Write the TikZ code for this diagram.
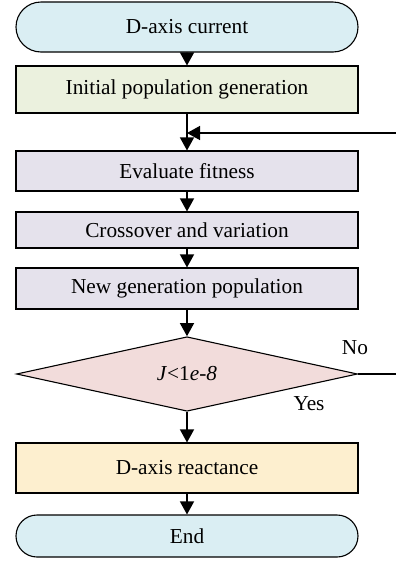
\documentclass[tikz,border=0pt]{standalone}
\usepackage{fontspec}
\setmainfont{Liberation Serif}
\usetikzlibrary{
  arrows.meta,
  shapes.geometric,
  shapes.misc
}

\definecolor{termblue}{HTML}{DAEEF3}
\definecolor{initgreen}{HTML}{EBF1DE}
\definecolor{steplilac}{HTML}{E5E2EC}
\definecolor{judgepink}{HTML}{F2DCDB}
\definecolor{outyellow}{HTML}{FDEFCF}

\begin{document}
\begin{tikzpicture}[x=1pt,y=-1pt,
    every node/.style={font=\fontsize{21.3}{25}\selectfont},
    box/.style={draw,line width=1.1pt,minimum width=342pt,inner sep=0pt},
    term/.style={box,rounded rectangle,fill=termblue},
    judge/.style={draw,line width=1.1pt,diamond,fill=judgepink,
      minimum width=341pt,minimum height=74pt,inner sep=0pt},
    arr/.style={line width=1.4pt,-{Triangle[width=14pt,length=13pt]}}]
      \useasboundingbox (0,0) rectangle (396,563);

      \node[term,minimum height=50pt] (start) at (187,27) {D-axis current};
      \node[box,fill=initgreen,minimum height=47pt] (init) at (187,89.5) {Initial population generation};
      \node[box,fill=steplilac,minimum height=40pt] (eval) at (187,171) {Evaluate fitness};
      \node[box,fill=steplilac,minimum height=36pt] (cross) at (187,230) {Crossover and variation};
      \node[box,fill=steplilac,minimum height=41pt] (newgen) at (187,288.5) {New generation population};
      \node[judge] (check) at (187,374) {\textit{J}<1\textit{e-8}};
      \node[box,fill=outyellow,minimum height=50pt] (react) at (187,468) {D-axis reactance};
      \node[term,minimum height=42pt] (end) at (187,536) {End};

      \node (no) at (355,348) {No};
      \node (yes) at (309,404) {Yes};

      \coordinate (fbin) at (396,133);
      \coordinate (noout) at (396,374);

      \draw[arr] (start) -- (init);
      \draw[arr] (init) -- (eval);
      \draw[arr] (fbin) -- (fbin -| init.south);
      \draw[arr] (eval) -- (cross);
      \draw[arr] (cross) -- (newgen);
      \draw[arr] (newgen) -- (check);
      \draw[line width=1.1pt] (check.east) -- (noout);
      \draw[arr] (check) -- (react);
      \draw[arr] (react) -- (end);
    \end{tikzpicture}
\end{document}
